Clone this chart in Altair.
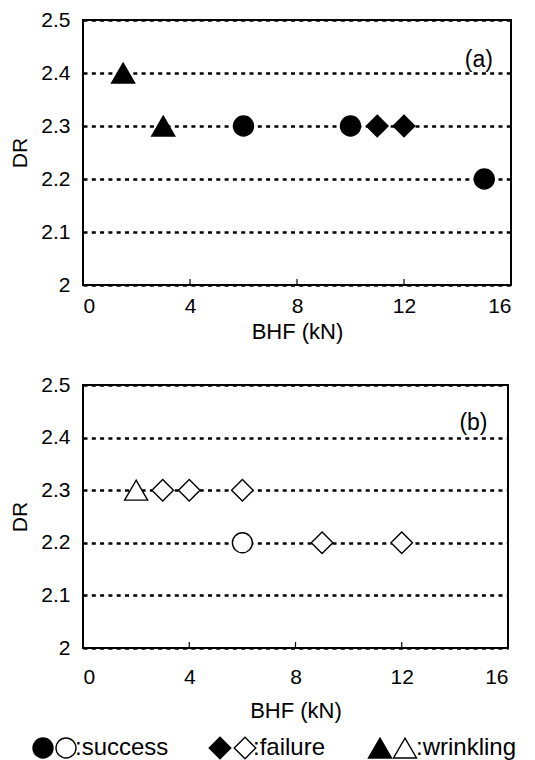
import altair as alt
import pandas as pd

# ---- data ----
a_bhf = [1.5, 3, 6, 10, 11, 12, 15]
a_dr = [2.4, 2.3, 2.3, 2.3, 2.3, 2.3, 2.2]
a_result = ["wrinkling", "wrinkling", "success", "success", "failure", "failure", "success"]

b_bhf = [2, 3, 4, 6, 6, 9, 12]
b_dr = [2.3, 2.3, 2.3, 2.3, 2.2, 2.2, 2.2]
b_result = ["wrinkling", "failure", "failure", "failure", "success", "failure", "failure"]

x_ticks = [0, 4, 8, 12, 16]
y_ticks = [2.0, 2.1, 2.2, 2.3, 2.4, 2.5]
inner_ticks = [4, 8, 12]

panel_labels = ["(a)", "(b)"]
label_x = [14.8, 14.7]
label_y = [2.425, 2.428]

# legend row: symbol kinds and texts
legend_results = ["success", "success", "failure", "failure", "wrinkling", "wrinkling"]
legend_fill = ["black", "white", "black", "white", "black", "white"]
legend_texts = [":success", ":failure", ":wrinkling"]
# layout of legend row (pixel offsets relative to the plot's left edge)
legend_sym_px = [-40, -17, 137, 162, 297, 322]
legend_txt_px = [-8, 170, 333]

FONT = "Liberation Sans"
results = ["success", "failure", "wrinkling"]
shapes = ["circle", "diamond", "triangle-up"]


def panel(bhf, dr, res, label, lx, ly, filled, w, h, sizes, lab_pad, tit_pad):
    df = pd.DataFrame({"BHF": bhf, "DR": dr, "result": res})
    xs = alt.Scale(domain=[0, 16], nice=False)
    ys = alt.Scale(domain=[2.0, 2.5], nice=False, zero=False)
    xax = alt.Axis(values=x_ticks, title="BHF (kN)", grid=False, ticks=False,
                   domain=False, labelPadding=lab_pad, titlePadding=tit_pad,
                   titleFontSize=22)
    yax = alt.Axis(values=y_ticks, title="DR", grid=True, ticks=False, domain=False,
                   format="~g", labelPadding=13, titlePadding=10,
                   gridColor="black", gridDash=[4, 4.3], gridWidth=2.5, gridOpacity=1)
    base = alt.Chart(df)
    pts = base.mark_point(
        filled=filled,
        fill="black" if filled else "white",
        stroke="black",
        strokeWidth=1.4,
        opacity=1,
    ).encode(
        x=alt.X("BHF:Q", scale=xs, axis=xax),
        y=alt.Y("DR:Q", scale=ys, axis=yax),
        shape=alt.Shape("result:N", scale=alt.Scale(domain=results, range=shapes), legend=None),
        size=alt.Size("result:N", scale=alt.Scale(domain=results, range=sizes), legend=None),
    )
    ticks = alt.Chart(pd.DataFrame({"t": inner_ticks})).mark_rule(
        color="black", strokeWidth=1.2
    ).encode(
        x=alt.X("t:Q", scale=xs),
        y=alt.value(h),
        y2=alt.value(h - 6),
    )
    txt = alt.Chart(pd.DataFrame({"x": [lx], "y": [ly], "t": [label]})).mark_text(
        font=FONT, fontSize=23, color="black"
    ).encode(
        x=alt.X("x:Q", scale=xs),
        y=alt.Y("y:Q", scale=ys),
        text="t:N",
    )
    return alt.layer(ticks, pts, txt).properties(width=w, height=h)


pa = panel(a_bhf, a_dr, a_result, panel_labels[0], label_x[0], label_y[0], True, 428, 265,
           [400, 530, 530], 10, 5)
pb = panel(b_bhf, b_dr, b_result, panel_labels[1], label_x[1], label_y[1], False, 425, 263,
           [300, 420, 500], 18, 13)

# legend strip
LW, LH = 428, 22
px = alt.Scale(domain=[0, LW], range=[0, LW])
sym_df = pd.DataFrame({"px": legend_sym_px, "result": legend_results, "fill": legend_fill})
leg_sym = alt.Chart(sym_df).mark_point(stroke="black", strokeWidth=1.4, opacity=1, filled=False).encode(
    x=alt.X("px:Q", scale=px, axis=None),
    y=alt.value(LH / 2),
    shape=alt.Shape("result:N", scale=alt.Scale(domain=results, range=shapes), legend=None),
    size=alt.Size("result:N", scale=alt.Scale(domain=results, range=[260, 330, 420]), legend=None),
    fill=alt.Fill("fill:N", scale=None),
)
txt_df = pd.DataFrame({"px": legend_txt_px, "t": legend_texts})
leg_txt = alt.Chart(txt_df).mark_text(font=FONT, fontSize=24, align="left", color="black").encode(
    x=alt.X("px:Q", scale=px, axis=None),
    y=alt.value(LH / 2),
    text="t:N",
)
legend = alt.layer(leg_sym, leg_txt).properties(width=LW, height=LH, view=alt.ViewConfig(stroke=None))

plots = alt.vconcat(pa, pb, spacing=30)
chart = alt.vconcat(plots, legend, spacing=12).properties(
    padding={"left": 0, "top": 0, "right": 0, "bottom": 0},
).configure_view(
    stroke="black", strokeWidth=2
).configure_axis(
    labelFont=FONT, titleFont=FONT, labelFontSize=21, titleFontSize=21,
    labelColor="black", titleColor="black", titleFontWeight="normal"
)

chart.save("out.html", embed_options={"renderer": "svg", "actions": False})
